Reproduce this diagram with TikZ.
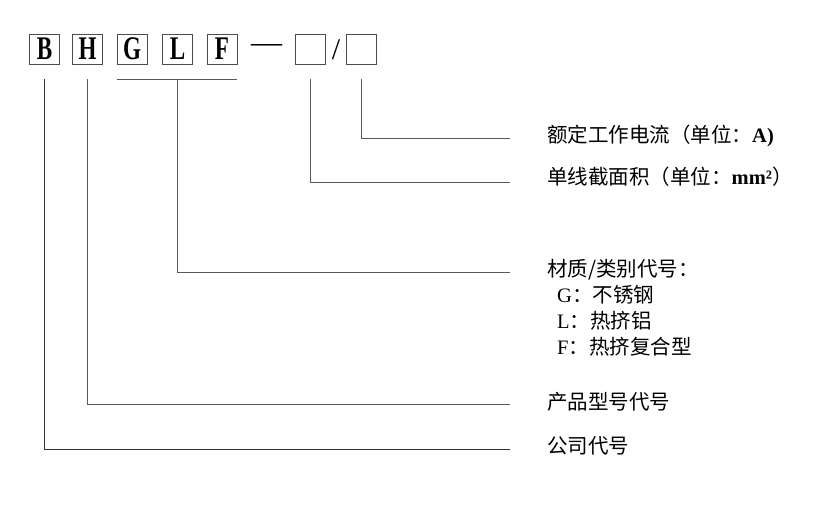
\documentclass[tikz,border=0pt]{standalone}
\usepackage{fontspec}
\usepackage{graphicx}
\setmainfont{Liberation Serif}
\newfontfamily\cjk{Noto Sans CJK SC}
\usetikzlibrary{positioning}

\begin{document}
\begin{tikzpicture}[x=1pt,y=-1pt,
  codebox/.style={draw=black!70,minimum width=30pt,minimum height=30pt,inner sep=0pt,
    font=\fontsize{33}{33}\selectfont\bfseries},
  link/.style={draw=black!65,line width=0.9pt},
  lbl/.style={anchor=base west,inner sep=0pt,align=left,
    font=\cjk\fontsize{20.5}{26}\selectfont}]
\useasboundingbox (0,0) rectangle (825,506);

\node[codebox] (B) at (44.5,49) {\scalebox{0.7}[1]{B}};
\node[codebox] (H) at (87.5,49) {\scalebox{0.7}[1]{H}};
\node[codebox] (G) at (132,49) {\scalebox{0.7}[1]{G}};
\node[codebox] (L) at (177.5,49) {\scalebox{0.7}[1]{L}};
\node[codebox] (F) at (222,49) {\scalebox{0.7}[1]{F}};
\node[font=\fontsize{31}{31}\selectfont,inner sep=0pt] (dash) at (266.5,49) {—};
\node[codebox] (sec) at (310.5,49) {};
\node[font=\fontsize{30}{30}\selectfont,inner sep=0pt] (slash) at (336,50) {/};
\node[codebox] (cur) at (361.5,49) {};

\coordinate (endA) at (510,138);
\coordinate (endS) at (510,182);
\coordinate (endM) at (510,272);
\coordinate (endP) at (510,404);
\coordinate (endC) at (510,449);

\node[lbl] (lblA) at ([xshift=37pt,yshift=-4pt]endA) {额定工作电流（单位：{\rmfamily\bfseries A)}};
\node[lbl] (lblS) at ([xshift=37pt,yshift=-2pt]endS) {单线截面积（单位：{\rmfamily\bfseries mm²}）};
\node[lbl,anchor=north west] (lblM) at ([xshift=37pt,yshift=13pt]endM) {材质/类别代号：\\
  \hspace*{10pt}{\rmfamily G}：不锈钢\\
  \hspace*{10pt}{\rmfamily L}：热挤铝\\
  \hspace*{10pt}{\rmfamily F}：热挤复合型};
\node[lbl] (lblP) at ([xshift=37pt,yshift=-5pt]endP) {产品型号代号};
\node[lbl] (lblC) at ([xshift=37pt,yshift=-4pt]endC) {公司代号};

\draw[link] ([yshift=-15pt]cur.south) |- (endA);
\draw[link] ([yshift=-15pt]sec.south) |- (endS);
\draw[link] ([yshift=-15pt]G.south west) -- ([yshift=-15pt]F.south east);
\draw[link] ([yshift=-15pt]L.south) |- (endM);
\draw[link] ([yshift=-15pt]H.south) |- (endP);
\draw[link,draw=black!80] ([yshift=-15pt]B.south) |- (endC);
\end{tikzpicture}
\end{document}
